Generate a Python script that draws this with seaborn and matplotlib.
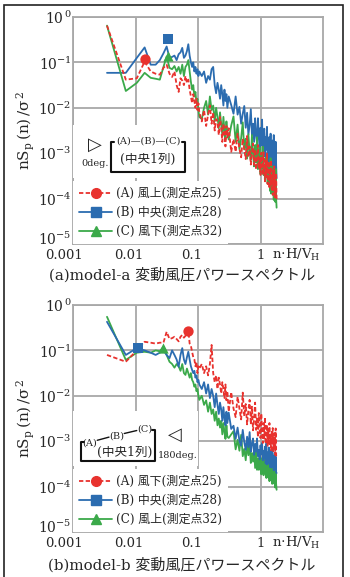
import numpy as np
import matplotlib
matplotlib.use("Agg")
import matplotlib.pyplot as plt
from matplotlib.lines import Line2D
from matplotlib.patches import Rectangle
from matplotlib.transforms import ScaledTranslation
import seaborn as sns

sns.set_style("white")
plt.rcParams['font.family'] = ['DejaVu Serif', 'Noto Sans CJK JP']
plt.rcParams['mathtext.fontset'] = 'dejavuserif'

# ---------------- data ----------------
FREQ = [0.0035, 0.007, 0.0105, 0.014, 0.0175, 0.021, 0.0245, 0.028, 0.0315, 0.035,
        0.0385, 0.042, 0.0455, 0.049, 0.0525, 0.056, 0.0595, 0.063, 0.0665, 0.07,
        0.0735, 0.077, 0.0805, 0.084, 0.0875, 0.091, 0.0945, 0.098, 0.1015, 0.105,
        0.115, 0.125, 0.135, 0.145, 0.155, 0.165, 0.175, 0.185, 0.195, 0.205,
        0.215, 0.225, 0.235, 0.245, 0.255, 0.265, 0.275, 0.285, 0.295,
        0.31, 0.34, 0.37, 0.40, 0.43, 0.46, 0.49, 0.52, 0.55, 0.58,
        0.61, 0.64, 0.67, 0.70, 0.73, 0.76, 0.79, 0.82, 0.85, 0.88,
        0.91, 0.94, 0.97, 1.00, 1.03, 1.06, 1.09, 1.12, 1.15, 1.18,
        1.21, 1.24, 1.27, 1.30, 1.33, 1.36, 1.39, 1.42, 1.45, 1.48,
        1.51, 1.54, 1.57, 1.60, 1.63, 1.66, 1.69, 1.72, 1.75, 1.78, 1.81]

# log10 of nSp(n)/sigma^2, model-a
A_RED_LOG = [-0.19, -1.38, -1.35, -0.98, -1.2, -1.25, -1.27, -1.12, -1.05, -1.25,
             -1.32, -1.2, -1.5, -1.65, -1.35, -1.4, -1.5, -1.3, -1.45, -1.38,
             -1.6, -1.75, -1.9, -1.7, -1.85, -2.0, -1.8, -2.05, -1.9, -2.1,
             -2.3, -2.05, -2.4, -2.15, -1.95, -2.35, -2.1, -2.5, -2.25, -2.3,
             -2.6, -2.2, -2.45, -2.75, -2.35, -2.55, -2.85, -2.4, -2.65,
             -2.45, -2.97, -2.69, -2.97, -2.57, -2.9, -3.09, -2.68, -2.91, -3.13,
             -2.62, -3.09, -2.85, -3.25, -2.98, -2.79, -3.26, -2.92, -3.36, -3.14,
             -2.82, -3.34, -3.11, -3.48, -2.99, -3.33, -3.48, -2.98, -3.36, -3.62,
             -3.16, -3.52, -2.99, -3.68, -3.38, -3.18, -3.78, -3.37, -3.64, -3.15,
             -3.8, -3.56, -3.92, -3.37, -3.73, -3.29, -3.97, -3.6, -3.9, -3.44, -4.05]
A_BLUE_LOG = [-1.23, -1.23, -0.9, -0.67, -1.05, -1.05, -0.95, -0.8, -0.65, -0.9,
              -0.88, -0.85, -0.95, -0.82, -0.78, -0.68, -0.9, -0.85, -0.75, -0.6,
              -0.85, -1.0, -1.1, -1.0, -1.2, -1.1, -1.25, -1.15, -1.3, -1.2,
              -1.3, -1.2, -1.45, -1.3, -1.38, -1.15, -1.1, -1.5, -1.68, -1.45,
              -1.6, -1.8, -1.5, -1.7, -1.95, -1.6, -1.85, -1.7, -2.0,
              -1.75, -1.94, -2.13, -1.75, -2.15, -1.98, -2.35, -2.13, -1.96, -2.44,
              -2.11, -2.59, -2.38, -2.03, -2.6, -2.35, -2.75, -2.23, -2.6, -2.77,
              -2.23, -2.64, -2.92, -2.44, -2.82, -2.26, -2.96, -2.66, -2.46, -3.07,
              -2.65, -2.92, -2.42, -3.08, -2.84, -3.2, -2.64, -3.01, -2.57, -3.24,
              -2.88, -3.17, -2.72, -3.37, -2.6, -3.41, -2.96, -3.38, -2.75, -3.27, -3.55]
A_GREEN_LOG = [-0.19, -1.63, -1.45, -1.23, -1.34, -1.36, -1.38, -1.1, -0.87, -1.12,
               -1.15, -1.08, -1.2, -1.1, -1.25, -1.05, -1.3, -1.1, -1.05, -0.95,
               -1.2, -1.43, -1.6, -1.5, -1.75, -1.65, -1.9, -1.8, -2.05, -2.2,
               -2.25, -2.0, -1.85, -2.15, -1.75, -2.05, -1.95, -2.3, -2.0, -2.2,
               -2.45, -2.1, -2.35, -2.6, -2.2, -2.5, -2.7, -2.3, -2.55,
               -2.7, -2.39, -2.19, -2.75, -2.37, -2.91, -2.67, -2.32, -2.92, -2.68,
               -3.12, -2.58, -2.98, -3.15, -2.6, -3.02, -3.29, -2.82, -3.2, -2.65,
               -3.35, -3.06, -2.87, -3.46, -3.06, -3.33, -2.86, -3.48, -3.26, -3.6,
               -3.1, -3.45, -3.04, -3.67, -3.34, -3.62, -3.22, -3.83, -3.11, -3.89,
               -3.46, -3.86, -3.29, -3.77, -4.03, -3.44, -3.77, -4.07, -3.35, -4.01, -4.2]

# model-b
B_RED_LOG = [-1.1, -1.25, -1.0, -0.81, -0.83, -0.85, -0.83, -0.83, -0.59, -0.75,
             -0.73, -0.7, -0.75, -0.8, -0.7, -0.66, -0.72, -0.68, -0.6, -0.55,
             -0.85, -0.9, -1.03, -1.15, -1.2, -1.35, -1.25, -1.5, -1.35, -1.4,
             -1.3, -1.5, -1.35, -1.55, -1.3, -0.88, -1.5, -1.7, -1.55, -1.85,
             -1.6, -1.75, -1.95, -1.7, -1.85, -2.05, -1.75, -2.1, -1.9,
             -2.35, -1.92, -2.28, -2.47, -2.02, -2.28, -2.52, -1.93, -2.45, -2.18,
             -2.63, -2.32, -2.09, -2.63, -2.24, -2.76, -2.51, -2.15, -2.75, -2.5,
             -2.91, -2.38, -2.76, -2.93, -2.39, -2.79, -3.04, -2.6, -2.94, -2.47,
             -3.06, -2.81, -2.64, -3.12, -2.79, -3.0, -2.6, -3.11, -2.92, -3.2,
             -2.77, -3.05, -2.71, -3.22, -2.94, -3.15, -2.82, -3.3, -2.72, -3.32, -3.33]
B_BLUE_LOG = [-0.37, -1.1, -0.95, -1.0, -1.05, -1.1, -1.05, -1.0, -1.1, -1.17,
              -1.0, -1.1, -1.2, -1.36, -1.1, -0.95, -1.2, -1.3, -1.15, -1.03,
              -1.2, -1.35, -1.43, -1.5, -1.45, -1.6, -1.55, -1.7, -1.65, -1.75,
              -1.85, -1.7, -1.95, -1.75, -2.05, -1.85, -2.0, -2.25, -1.95, -2.2,
              -2.4, -2.15, -2.3, -2.55, -2.25, -2.5, -2.65, -2.35, -2.6,
              -2.37, -2.73, -2.66, -2.95, -2.7, -2.99, -3.1, -2.75, -3.02, -3.19,
              -2.9, -3.13, -2.8, -3.23, -3.05, -2.94, -3.3, -3.06, -3.23, -2.94,
              -3.33, -3.19, -3.4, -3.09, -3.29, -3.04, -3.42, -3.21, -3.38, -3.12,
              -3.49, -3.05, -3.51, -3.25, -3.49, -3.14, -3.42, -3.57, -3.2, -3.4,
              -3.58, -3.14, -3.53, -3.32, -3.64, -3.41, -3.25, -3.62, -3.34, -3.69, -3.7]
B_GREEN_LOG = [-0.26, -1.21, -1.05, -1.03, -1.05, -1.0, -1.02, -0.92, -1.1, -1.25,
               -1.3, -1.38, -1.3, -1.35, -1.45, -1.3, -1.5, -1.54, -1.4, -1.5,
               -1.6, -1.5, -1.65, -1.7, -1.8, -1.75, -1.9, -1.85, -2.0, -2.09,
               -2.0, -2.2, -2.1, -2.35, -2.15, -2.4, -2.3, -2.55, -2.35, -2.65,
               -2.5, -2.7, -2.55, -2.85, -2.6, -2.8, -2.95, -2.65, -2.9,
               -2.93, -2.85, -2.78, -3.18, -2.97, -3.21, -2.86, -3.33, -3.17, -3.42,
               -3.07, -3.31, -3.04, -3.48, -3.26, -3.45, -3.19, -3.59, -3.15, -3.63,
               -3.38, -3.63, -3.3, -3.58, -3.73, -3.37, -3.57, -3.75, -3.31, -3.7,
               -3.49, -3.81, -3.59, -3.43, -3.8, -3.53, -3.88, -3.7, -3.44, -3.85,
               -3.66, -3.94, -3.56, -3.82, -3.93, -3.54, -3.83, -4.02, -3.68, -3.95, -4.07]

# marker points (red, blue, green)
A_MARK_F = [0.0141, 0.033, 0.033]
A_MARK_LOG = [-0.93, -0.48, -0.86]
B_MARK_F = [0.069, 0.0108, 0.0275]
B_MARK_LOG = [-0.57, -0.95, -0.95]

A_LABELS = ["(A) 風上(測定点25)", "(B) 中央(測定点28)", "(C) 風下(測定点32)"]
B_LABELS = ["(A) 風下(測定点25)", "(B) 中央(測定点28)", "(C) 風上(測定点32)"]
X_TICKS = [0.001, 0.01, 0.1, 1]
X_TICKLABELS = ["0.001", "0.01", "0.1", "1"]
Y_TICKS = [1e-5, 1e-4, 1e-3, 1e-2, 1e-1, 1e0]
Y_TICKLABELS = [r"$10^{-5}$", r"$10^{-4}$", r"$10^{-3}$", r"$10^{-2}$", r"$10^{-1}$", r"$10^{\,0}$"]
TITLES = ["(a)model-a 変動風圧パワースペクトル", "(b)model-b 変動風圧パワースペクトル"]

RED = '#E8322E'
BLUE = '#2B6CB0'
GREEN = '#3BA94A'
GRID = '#a8a8a8'
DASH = (0, (2.4, 1.3))
LW = 1.3

fig = plt.figure(figsize=(3.5, 5.77), dpi=100)
W, H = 350.0, 577.0

def px_axes(left, top, right, bottom):
    return fig.add_axes([left / W, 1 - bottom / H, (right - left) / W, (bottom - top) / H])

ax_a = px_axes(73, 17, 323, 244)
ax_b = px_axes(73, 305, 323, 532)

def style_axes(ax):
    ax.set_xscale('log')
    ax.set_yscale('log')
    ax.set_xlim(1e-3, 10)
    ax.set_ylim(1e-5, 1)
    ax.set_xticks(X_TICKS)
    ax.set_xticklabels(X_TICKLABELS, fontsize=9.5)
    ax.set_yticks(Y_TICKS)
    ax.set_yticklabels(Y_TICKLABELS, fontsize=10)
    ax.xaxis.set_minor_locator(matplotlib.ticker.NullLocator())
    ax.yaxis.set_minor_locator(matplotlib.ticker.NullLocator())
    ax.tick_params(length=0, axis='x', pad=3.5)
    ax.tick_params(length=0, axis='y', pad=1)
    for lab, dx in zip(ax.get_xticklabels(), [-9, -7, -6, 0]):
        lab.set_transform(lab.get_transform() + ScaledTranslation(dx / 100, 0, fig.dpi_scale_trans))
    ylabs = ax.get_yticklabels()
    ylabs[0].set_transform(ylabs[0].get_transform() + ScaledTranslation(0, 6 / 100, fig.dpi_scale_trans))
    ax.grid(True, which='major', color=GRID, lw=1.3)
    for s in ax.spines.values():
        s.set_color(GRID)
        s.set_linewidth(1.3)
    ax.set_xlabel('')
    ax.set_ylabel(r'$\mathregular{nS_p\,(n)\,/\sigma^{\,2}}$', fontsize=11)
    ax.yaxis.set_label_coords(-0.145, 0.5)
    ax.text(0.795, -0.048, r'$\mathregular{n{\cdot}H/V_H}$', transform=ax.transAxes,
            ha='left', va='center', fontsize=9.5)

def draw_series(ax, order, series):
    for key in order:
        vals, color, ls = series[key]
        sns.lineplot(x=FREQ, y=10 ** np.array(vals), ax=ax, color=color, lw=LW,
                     linestyle=ls, estimator=None, sort=False, legend=False, zorder=3)

def draw_markers(ax, mf, mlog):
    for f, lv, c, m in zip(mf, mlog, [RED, BLUE, GREEN], ['o', 's', '^']):
        sns.scatterplot(x=[f], y=[10 ** lv], ax=ax, marker=m, s=55, color=c,
                        edgecolor=c, linewidth=0, zorder=4, legend=False)

def add_legend(ax, labels):
    handles = [Line2D([], [], color=RED, ls=DASH, lw=LW, marker='o', ms=7),
               Line2D([], [], color=BLUE, lw=LW, marker='s', ms=7),
               Line2D([], [], color=GREEN, lw=LW, marker='^', ms=7)]
    leg = ax.legend(handles, labels, loc='lower left', bbox_to_anchor=(0, 0),
                    borderaxespad=0, frameon=True, framealpha=1, facecolor='white',
                    edgecolor='none', fancybox=False, handlelength=2.8, handletextpad=0.3,
                    labelspacing=0.5, borderpad=0.5,
                    prop={'family': ['DejaVu Serif', 'Noto Sans CJK JP'], 'size': 8.6})
    leg.set_zorder(6)

# ---- panel a ----
style_axes(ax_a)
draw_series(ax_a, ['b', 'g', 'r'], {'r': (A_RED_LOG, RED, DASH), 'b': (A_BLUE_LOG, BLUE, '-'),
                                    'g': (A_GREEN_LOG, GREEN, '-')})
draw_markers(ax_a, A_MARK_F, A_MARK_LOG)
add_legend(ax_a, A_LABELS)
ax_a.add_patch(Rectangle((0, 0.29), 0.495, 0.235, transform=ax_a.transAxes,
                         facecolor='white', edgecolor='none', zorder=5))
ta = ax_a.transAxes
ax_a.text(0.088, 0.436, '▷', transform=ta, ha='center', va='center', fontsize=13,
          family='DejaVu Sans', zorder=7)
ax_a.text(0.088, 0.355, '0deg.', transform=ta, ha='center', va='center', fontsize=7, zorder=7)
ax_a.plot([0.165, 0.151, 0.151, 0.448, 0.448, 0.434], [0.451, 0.451, 0.317, 0.317, 0.451, 0.451],
          transform=ta, color='#111111', lw=1.5, zorder=7)
ax_a.text(0.30, 0.452, '(A)—(B)—(C)', transform=ta, ha='center', va='center', fontsize=7, zorder=7)
ax_a.text(0.30, 0.374, '(中央1列)', transform=ta, ha='center', va='center', fontsize=9, zorder=7)

# ---- panel b ----
style_axes(ax_b)
draw_series(ax_b, ['g', 'b', 'r'], {'r': (B_RED_LOG, RED, DASH), 'b': (B_BLUE_LOG, BLUE, '-'),
                                    'g': (B_GREEN_LOG, GREEN, '-')})
draw_markers(ax_b, B_MARK_F, B_MARK_LOG)
add_legend(ax_b, B_LABELS)
ax_b.add_patch(Rectangle((0, 0.29), 0.5, 0.245, transform=ax_b.transAxes,
                         facecolor='white', edgecolor='none', zorder=5))
tb = ax_b.transAxes
ax_b.plot([0.045, 0.032, 0.032, 0.328, 0.328, 0.315], [0.398, 0.398, 0.314, 0.314, 0.449, 0.449],
          transform=tb, color='#111111', lw=1.5, zorder=7)
ax_b.text(0.068, 0.392, '(A)', transform=tb, ha='center', va='center', fontsize=7, zorder=7)
ax_b.text(0.176, 0.423, '(B)', transform=tb, ha='center', va='center', fontsize=7, zorder=7)
ax_b.text(0.288, 0.452, '(C)', transform=tb, ha='center', va='center', fontsize=7, zorder=7)
ax_b.plot([0.097, 0.144], [0.404, 0.418], transform=tb, color='#111111', lw=1.0, zorder=7)
ax_b.plot([0.205, 0.255], [0.434, 0.447], transform=tb, color='#111111', lw=1.0, zorder=7)
ax_b.text(0.208, 0.349, '(中央1列)', transform=tb, ha='center', va='center', fontsize=9, zorder=7)
ax_b.text(0.408, 0.427, '◁', transform=tb, ha='center', va='center', fontsize=13,
          family='DejaVu Sans', zorder=7)
ax_b.text(0.418, 0.337, '180deg.', transform=tb, ha='center', va='center', fontsize=7, zorder=7)

# ---- panel captions ----
fig.text(182 / W, 1 - 275 / H, TITLES[0], ha='center', va='center', fontsize=10.8,
         family=['DejaVu Serif', 'Noto Sans CJK JP'])
fig.text(182 / W, 1 - 565 / H, TITLES[1], ha='center', va='center', fontsize=10.8,
         family=['DejaVu Serif', 'Noto Sans CJK JP'])

# outer frame
fig.add_artist(Rectangle((4 / W, -0.02), 339 / W, 1.02 - 5 / H, transform=fig.transFigure,
                         facecolor='none', edgecolor='#222222', lw=1.2))

fig.savefig('out.png', dpi=100)
